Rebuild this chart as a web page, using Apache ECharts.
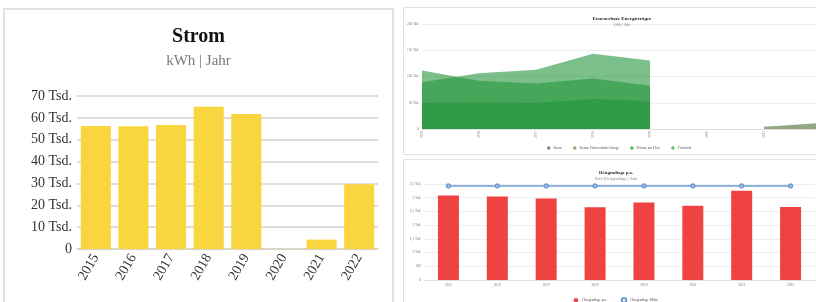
<!DOCTYPE html>
<html>
<head>
<meta charset="utf-8">
<script src="https://cdn.jsdelivr.net/npm/echarts@6/dist/echarts.min.js"></script>
<style>
  html, body { margin: 0; padding: 0; background: #fff; width: 816px; height: 302px; overflow: hidden; position: relative; }
  .panel { position: absolute; background: #fff; box-sizing: border-box; }
  #strom { left: 3px; top: 8px; width: 391px; height: 310px; border: 2px solid #e3e1da; }
  #ee { left: 403px; top: 7px; width: 438px; height: 148px; border: 1px solid #e2e2e2; }
  #hgt { left: 403px; top: 159px; width: 426px; height: 160px; border: 1px solid #e2e2e2; }
</style>
</head>
<body>
<div id="strom" class="panel"></div>
<div id="ee" class="panel"></div>
<div id="hgt" class="panel"></div>
<script>
// data
const years = ['2015', '2016', '2017', '2018', '2019', '2020', '2021', '2022'];
const stromKwh = [56300, 56200, 56700, 65100, 61800, 0, 4300, 29600];

const eeStrom = [null, null, null, null, null, null, 4400, 11500];
const eePhotovoltaik = [50000, 50600, 50000, 57000, 53500, null, null, null];
const eeHolz = [111500, 91700, 86500, 96000, 82500, null, null, null];
const eeTreibstoff = [89000, 106000, 113000, 143500, 130500, null, null, null];

const hgtJahr = [3085, 3045, 2975, 2650, 2830, 2710, 3250, 2665];
const hgtMittel = [3430, 3430, 3430, 3430, 3430, 3430, 3430, 3430];

const serif = '"Liberation Serif", "DejaVu Serif", serif';

// German style axis labels: 70 Tsd., 3,5 Tsd., 500
function tsd(v) {
  if (v === 0) return '0';
  if (v < 1000) return String(v);
  return String(v / 1000).replace('.', ',') + ' Tsd.';
}

// --- Strom ---
const stromChart = echarts.init(document.getElementById('strom'));
stromChart.setOption({
  animation: false,
  title: [
    { text: 'Strom', left: 'center', top: 12, textStyle: { fontFamily: serif, fontSize: 20, fontWeight: 'bold', color: '#111' } },
    { text: 'kWh | Jahr', left: 'center', top: 39, textStyle: { fontFamily: serif, fontSize: 15, fontWeight: 'normal', color: '#777' } }
  ],
  grid: { left: 72, right: 14, top: 86, bottom: 67 },
  xAxis: {
    type: 'category',
    data: years,
    axisLine: { lineStyle: { color: '#d8d2c6', width: 1.5 } },
    axisTick: { show: false },
    axisLabel: { rotate: 60, fontFamily: serif, fontSize: 14, color: '#333', margin: 6 }
  },
  yAxis: {
    type: 'value',
    min: 0, max: 70000, interval: 10000,
    axisLabel: { formatter: tsd, fontFamily: serif, fontSize: 14, color: '#333', margin: 5 },
    splitLine: { lineStyle: { color: '#d8d2c6', width: 1.5 } }
  },
  series: [{
    name: 'Strom',
    type: 'bar',
    data: stromKwh,
    barCategoryGap: '20%',
    itemStyle: { color: '#f9d63f' }
  }]
});

// --- Erneuerbare Energietraeger ---
const green = 'rgb(35,150,60)';
function eeArea(name, data, legendColor, areaColor, opacity) {
  return {
    name: name,
    type: 'line',
    data: data,
    symbol: 'none',
    lineStyle: { width: 0 },
    itemStyle: { color: legendColor },
    areaStyle: { color: areaColor, opacity: opacity }
  };
}
const eeChart = echarts.init(document.getElementById('ee'));
eeChart.setOption({
  animation: false,
  title: [
    { text: 'Erneuerbare Energieträger', left: 'center', top: 3, textStyle: { fontFamily: serif, fontSize: 5, fontWeight: 'bold', color: '#222' } },
    { text: 'kWh | Jahr', left: 'center', top: 10, textStyle: { fontFamily: serif, fontSize: 4, fontWeight: 'normal', color: '#888' } }
  ],
  legend: {
    bottom: -1, left: 138,
    icon: 'circle', itemWidth: 3.5, itemHeight: 3.5, itemGap: 11,
    textStyle: { fontFamily: serif, fontSize: 3.5, color: '#555', padding: [0, 0, 0, -2] },
    data: ['Strom', 'Strom: Photovoltaik-Anlage', 'Wärme aus Holz', 'Treibstoff']
  },
  grid: { left: 18, right: 19, top: 16, bottom: 25 },
  xAxis: {
    type: 'category',
    boundaryGap: false,
    data: years,
    axisLine: { lineStyle: { color: '#ddd' } },
    axisTick: { show: false },
    axisLabel: { rotate: 90, fontFamily: serif, fontSize: 3.5, color: '#777', margin: 2 }
  },
  yAxis: {
    type: 'value',
    min: 0, max: 200000, interval: 50000,
    axisLabel: { formatter: tsd, fontFamily: serif, fontSize: 3.5, color: '#777', margin: 3 },
    splitLine: { lineStyle: { color: '#eeeeee' } }
  },
  series: [
    eeArea('Strom', eeStrom, '#7c8873', 'rgb(100,130,80)', 0.7),
    eeArea('Strom: Photovoltaik-Anlage', eePhotovoltaik, '#8aab74', green, 0.6),
    eeArea('Wärme aus Holz', eeHolz, '#4dbb5b', green, 0.6),
    eeArea('Treibstoff', eeTreibstoff, '#5dc26a', green, 0.6)
  ]
});

// --- Heizgradtage ---
const hgtChart = echarts.init(document.getElementById('hgt'));
hgtChart.setOption({
  animation: false,
  title: [
    { text: 'Heizgradtage p.a.', left: 'center', top: 5, textStyle: { fontFamily: serif, fontSize: 4.5, fontWeight: 'bold', color: '#222' } },
    { text: 'Kd/a (Heizgradtage) | Jahr', left: 'center', top: 12, textStyle: { fontFamily: serif, fontSize: 4, fontWeight: 'normal', color: '#888' } }
  ],
  legend: {
    top: 132, left: 'center',
    itemWidth: 4.5, itemHeight: 4.5, itemGap: 14,
    textStyle: { fontFamily: serif, fontSize: 3.5, color: '#555', padding: [0, 0, 0, -1] },
    data: [
      { name: 'Heizgradtage p.a.', icon: 'circle' },
      { name: 'Heizgradtage Mittel', icon: 'emptyCircle' }
    ]
  },
  grid: { left: 20, right: 13, top: 24, bottom: 38 },
  xAxis: {
    type: 'category',
    data: years,
    axisLine: { lineStyle: { color: '#ddd' } },
    axisTick: { show: false },
    axisLabel: { fontFamily: serif, fontSize: 3.5, color: '#777', margin: 3 }
  },
  yAxis: {
    type: 'value',
    min: 0, max: 3500, interval: 500,
    axisLabel: { formatter: tsd, fontFamily: serif, fontSize: 3.5, color: '#777', margin: 3 },
    splitLine: { lineStyle: { color: '#eeeeee' } }
  },
  series: [
    {
      name: 'Heizgradtage p.a.',
      type: 'bar',
      data: hgtJahr,
      barWidth: 21,
      itemStyle: { color: '#ee4340' }
    },
    {
      name: 'Heizgradtage Mittel',
      type: 'line',
      data: hgtMittel,
      symbol: 'emptyCircle',
      symbolSize: 3.5,
      lineStyle: { color: '#6f9bd2', width: 1.5 },
      itemStyle: { color: '#6f9bd2', borderWidth: 1.2 }
    }
  ]
});
</script>
</body>
</html>
